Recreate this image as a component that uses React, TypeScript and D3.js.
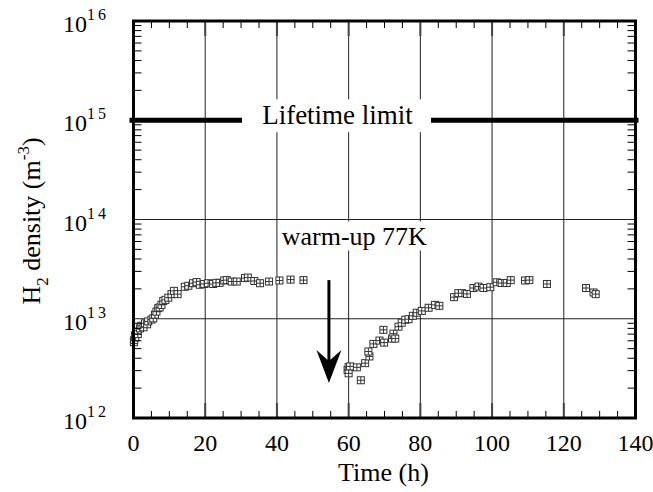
import React from "react";
import * as d3 from "d3";

const xTicks = [0, 20, 40, 60, 80, 100, 120, 140];
const yDecades = [12, 13, 14, 15, 16];

// First run (cool-down), time (h) and H2 density (m^-3)
const time1 = [0.1, 0.2, 0.4, 0.5, 0.8, 1.2, 1.8, 2.2, 2.8, 3.2, 3.8, 4.1, 5.0, 5.5, 6.0, 6.4, 6.9, 7.3, 7.8, 8.3, 8.9, 9.7, 10.6, 11.3, 12.3, 14.3, 15.3, 16.6, 17.6, 18.5, 19.7, 20.8, 22.2, 23.1, 24.0, 25.3, 26.0, 27.4, 28.8, 31.1, 31.9, 33.7, 35.3, 37.8, 40.7, 43.8, 47.4];
const dens1 = [5.8e12, 6.1e12, 6.8e12, 6.5e12, 7.4e12, 7.0e12, 8.0e12, 8.5e12, 8.2e12, 9.0e12, 8.8e12, 9.4e12, 9.8e12, 1.01e13, 1.1e13, 1.18e13, 1.28e13, 1.3e13, 1.38e13, 1.51e13, 1.55e13, 1.63e13, 1.77e13, 1.91e13, 1.77e13, 2.1e13, 2.15e13, 2.28e13, 2.34e13, 2.2e13, 2.24e13, 2.28e13, 2.24e13, 2.3e13, 2.3e13, 2.43e13, 2.45e13, 2.37e13, 2.37e13, 2.57e13, 2.6e13, 2.4e13, 2.28e13, 2.37e13, 2.43e13, 2.48e13, 2.45e13];

// Second run (after warm-up to 77K)
const time2 = [59.7, 60.0, 60.0, 60.4, 62.3, 63.4, 64.6, 65.8, 65.5, 66.9, 68.6, 69.9, 69.7, 72.1, 72.5, 73.0, 73.9, 74.8, 75.8, 76.7, 77.9, 79.0, 80.4, 82.3, 84.1, 85.3, 89.4, 90.6, 91.6, 93.0, 94.8, 96.2, 97.6, 99.5, 101.3, 102.7, 104.1, 105.2, 109.2, 110.4, 115.3, 126.2, 128.3, 128.9];
const dens2 = [3.05e12, 3.26e12, 2.82e12, 3.31e12, 3.24e12, 2.4e12, 3.57e12, 4.17e12, 4.68e12, 5.58e12, 6.03e12, 5.75e12, 7.73e12, 6.31e12, 7.08e12, 6.31e12, 8.32e12, 9.12e12, 9.77e12, 9.9e12, 1.07e13, 1.15e13, 1.2e13, 1.29e13, 1.38e13, 1.35e13, 1.65e13, 1.81e13, 1.81e13, 1.78e13, 2.04e13, 2.11e13, 2.04e13, 2.08e13, 2.33e13, 2.29e13, 2.29e13, 2.45e13, 2.43e13, 2.45e13, 2.24e13, 2.04e13, 1.84e13, 1.77e13];

const lifetimeLimit = 1e15;
const arrowTime = 54.5;
const arrowFrom = 2.45e13;
const arrowTo = 2.25e12;

const W = 653;
const H = 492;
const L = 133.5, R = 635.5, T = 21, B = 418;
const FONT = "Liberation Serif, Tinos, Times New Roman, Times, Nimbus Roman, serif";
const tStyle = { fontFamily: FONT };

export default function App() {
  const x = d3.scaleLinear().domain([0, 140]).range([L, R]);
  const y = d3.scaleLog().domain([1e12, 1e16]).range([B, T]);

  const points = [
    ...time1.map((t, i) => [t, dens1[i]]),
    ...time2.map((t, i) => [t, dens2[i]]),
  ];

  const minorX = d3.range(5, 140, 5).filter((v) => v % 20 !== 0);
  const majorX = d3.range(20, 140, 20);
  const minorY: number[] = [];
  for (let d = 12; d < 16; d++) for (let k = 2; k <= 9; k++) minorY.push(k * Math.pow(10, d));

  const ax = x(arrowTime);
  const tipY = y(arrowTo);
  const headBack = tipY - 33;
  const notch = tipY - 22;

  const ly = y(lifetimeLimit);

  return (
    <svg width={W} height={H} style={{ position: "absolute", left: 0, top: 0 }}>
      <rect x={0} y={0} width={W} height={H} fill="#fff" />
      {/* grid */}
      {majorX.map((v) => (
        <line key={"gx" + v} x1={x(v)} x2={x(v)} y1={T} y2={B} stroke="#222" strokeWidth={1} />
      ))}
      {[1e13, 1e14].map((v) => (
        <line key={"gy" + v} x1={L} x2={R} y1={y(v)} y2={y(v)} stroke="#222" strokeWidth={1} />
      ))}
      {/* lifetime limit */}
      <rect x={242} y={ly - 21} width={189} height={33} fill="#fff" />
      <line x1={L - 4} x2={242} y1={ly} y2={ly} stroke="#000" strokeWidth={5} />
      <line x1={431} x2={R + 3} y1={ly} y2={ly} stroke="#000" strokeWidth={5} />
      <text x={337.5} y={ly + 4} fontSize={27} textAnchor="middle" style={tStyle}>Lifetime limit</text>
      {/* warm-up label */}
      <rect x={278} y={y(1e14) + 2} width={152} height={29} fill="#fff" />
      <text x={281.7} y={245} fontSize={26} style={tStyle}>warm-up 77K</text>
      {/* arrow */}
      <line x1={ax} x2={ax} y1={y(arrowFrom)} y2={notch} stroke="#000" strokeWidth={3} />
      <path d={`M${ax},${tipY} L${ax - 12.5},${headBack} L${ax},${notch} L${ax + 12.5},${headBack} Z`} fill="#000" />
      {/* points */}
      {points.map(([t, v], i) => {
        const cx = x(t), cy = y(v);
        return (
          <g key={"p" + i}>
            <rect x={cx - 3.5} y={cy - 3.5} width={7} height={7} fill="#fff" stroke="#333" strokeWidth={1} />
            <line x1={cx} x2={cx} y1={cy - 3.5} y2={cy + 3.5} stroke="#333" strokeWidth={1} />
            <line x1={cx - 3.5} x2={cx + 3.5} y1={cy} y2={cy} stroke="#333" strokeWidth={1} />
          </g>
        );
      })}
      {/* ticks */}
      {minorX.map((v) => (
        <g key={"mx" + v}>
          <line x1={x(v)} x2={x(v)} y1={B} y2={B - 7} stroke="#000" strokeWidth={1} />
          <line x1={x(v)} x2={x(v)} y1={T} y2={T + 7} stroke="#000" strokeWidth={1} />
        </g>
      ))}
      {majorX.map((v) => (
        <g key={"Mx" + v}>
          <line x1={x(v)} x2={x(v)} y1={B} y2={B - 15} stroke="#444" strokeWidth={2} />
          <line x1={x(v)} x2={x(v)} y1={T} y2={T + 15} stroke="#444" strokeWidth={2} />
        </g>
      ))}
      {minorY.map((v) => (
        <g key={"my" + v}>
          <line x1={L} x2={L + 8} y1={y(v)} y2={y(v)} stroke="#000" strokeWidth={1} />
          <line x1={R} x2={R - 8} y1={y(v)} y2={y(v)} stroke="#000" strokeWidth={1} />
        </g>
      ))}
      {/* frame */}
      <rect x={L} y={T} width={R - L} height={B - T} fill="none" stroke="#000" strokeWidth={3} />
      {/* x tick labels */}
      {xTicks.map((v) => (
        <text key={"xl" + v} x={x(v)} y={450.5} fontSize={24} textAnchor="middle" style={tStyle}>{v}</text>
      ))}
      {/* y tick labels */}
      {yDecades.map((d) => (
        <text key={"yl" + d} x={63} y={y(Math.pow(10, d)) + 11} fontSize={24} style={tStyle}>
          10
          <tspan dy={-12} fontSize={16} letterSpacing={3}>{d}</tspan>
        </text>
      ))}
      {/* axis titles */}
      <text x={(L + R) / 2 - 1} y={481} fontSize={26} textAnchor="middle" style={tStyle}>Time (h)</text>
      <text transform={`translate(40,221) rotate(-90)`} fontSize={26} textAnchor="middle" style={tStyle}>
        H<tspan dy={8} fontSize={17}>2</tspan>
        <tspan dy={-8}> density (m</tspan>
        <tspan dy={-11} fontSize={17}>-3</tspan>
        <tspan dy={11}>)</tspan>
      </text>
    </svg>
  );
}
